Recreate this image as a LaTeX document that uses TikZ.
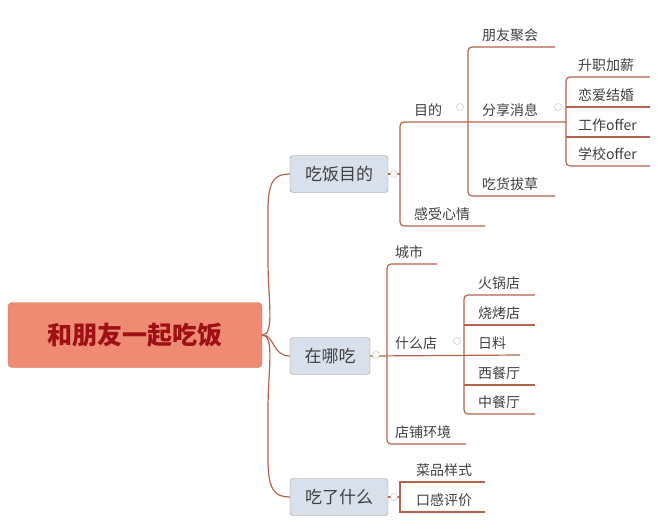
\documentclass[tikz,border=0pt]{standalone}
\usepackage{fontspec}
\newfontfamily\cjk{Noto Sans CJK SC}
\usetikzlibrary{positioning}
\definecolor{branch}{HTML}{B5634B}
\definecolor{rootfill}{HTML}{EE8B72}
\definecolor{rootline}{HTML}{D9735A}
\definecolor{roottext}{HTML}{9E1015}
\definecolor{topicfill}{HTML}{D8E0EB}
\definecolor{topicline}{HTML}{A89090}
\tikzset{
  rootbox/.style={draw=rootline, fill=rootfill, rounded corners=4pt, minimum width=254pt, minimum height=65pt, font=\cjk\fontsize{25}{25}\selectfont\bfseries, text=roottext},
  topic/.style={draw=topicline, fill=topicfill, rounded corners=3pt, minimum height=37pt, font=\cjk\fontsize{17}{17}\selectfont, text=black!75},
  leaf/.style={font=\cjk\fontsize{14}{14}\selectfont, text=black!75, anchor=south west, inner sep=2pt},
  link/.style={draw=branch, line width=1.2pt},
  knob/.style={circle, draw=black!25, fill=white, inner sep=0pt, minimum size=7pt}
}
\begin{document}
\begin{tikzpicture}[x=1pt, y=-1pt]
	\useasboundingbox (0,0) rectangle (657,531);
	
	\node[rootbox] (root) at (135,335){和朋友一起吃饭};
	\node[topic, minimum width=98pt] (goal) at (339,174){吃饭目的};
	\node[topic, minimum width=80pt] (where) at (330,356){在哪吃};
	\node[topic, minimum width=98pt] (what) at (339,497){吃了什么};
	
	\draw[link] (root.east) .. controls (275,335) and (268,300) .. (268,260) -- (268,210) .. controls (268,180) and (275,174) .. (goal.west);
	\draw[link] (root.east) .. controls (275,335) and (272,356) .. (where.west);
	\draw[link] (root.east) .. controls (275,335) and (268,370) .. (268,410) -- (268,460) .. controls (268,490) and (275,497) .. (what.west);
	
	% 吃饭目的
	\draw[link, rounded corners=4pt] (485,226) -- (400,226) -- (400,122) -- (566,122);
	\draw[link] (goal.east) -- (400,174);
	\node[knob] (k1) at (394,174){};
	\node[leaf] (mudi) at (412,119){目的};
	\node[leaf] (ganshou) at (412,223){感受心情};
	\node[knob] (k2) at (460,107){};
	\draw[link, rounded corners=4pt] (555,47) -- (468,47) -- (468,196) -- (555,196);
	\node[leaf] (juhui) at (480,44){朋友聚会};
	\node[leaf] (fenxiang) at (480,119){分享消息};
	\node[leaf] (bacao) at (480,193){吃货拔草};
	\node[knob] (k3) at (558,107){};
	\draw[link, rounded corners=4pt] (650,77) -- (566,77) -- (566,166) -- (650,166);
	\draw[link] (566,107) -- (650,107);
	\draw[link] (566,137) -- (650,137);
	\node[leaf] (shengzhi) at (576,74){升职加薪};
	\node[leaf] (lianai) at (576,104){恋爱结婚};
	\node[leaf] (gongzuo) at (576,134){工作offer};
	\node[leaf] (xuexiao) at (576,163){学校offer};
	
	% 在哪吃
	\draw[link, rounded corners=4pt] (437,264) -- (387,264) -- (387,444) -- (466,444);
	\draw[link] (where.east) -- (520,355);
	\node[knob] (k4) at (376,355){};
	\node[leaf] (chengshi) at (393,261){城市};
	\node[leaf] (shenme) at (393,352){什么店};
	\node[leaf] (huanjing) at (393,441){店铺环境};
	\node[knob] (k5) at (457,341){};
	\draw[link, rounded corners=4pt] (535,295) -- (464,295) -- (464,414) -- (535,414);
	\draw[link] (464,325) -- (535,325);
	\draw[link] (464,385) -- (535,385);
	\node[leaf] (huoguo) at (476,292){火锅店};
	\node[leaf] (shaokao) at (476,322){烧烤店};
	\node[leaf] (riliao) at (476,352){日料};
	\node[leaf] (xican) at (476,382){西餐厅};
	\node[leaf] (zhongcan) at (476,411){中餐厅};
	
	% 吃了什么
	\draw[link] (what.east) -- (400,497);
	\draw[link] (485,482) -- (400,482) -- (400,512) -- (485,512);
	\node[knob] (k6) at (394,497){};
	\node[leaf] (caipin) at (414,479){菜品样式};
	\node[leaf] (kougan) at (414,509){口感评价};
\end{tikzpicture}
\end{document}
